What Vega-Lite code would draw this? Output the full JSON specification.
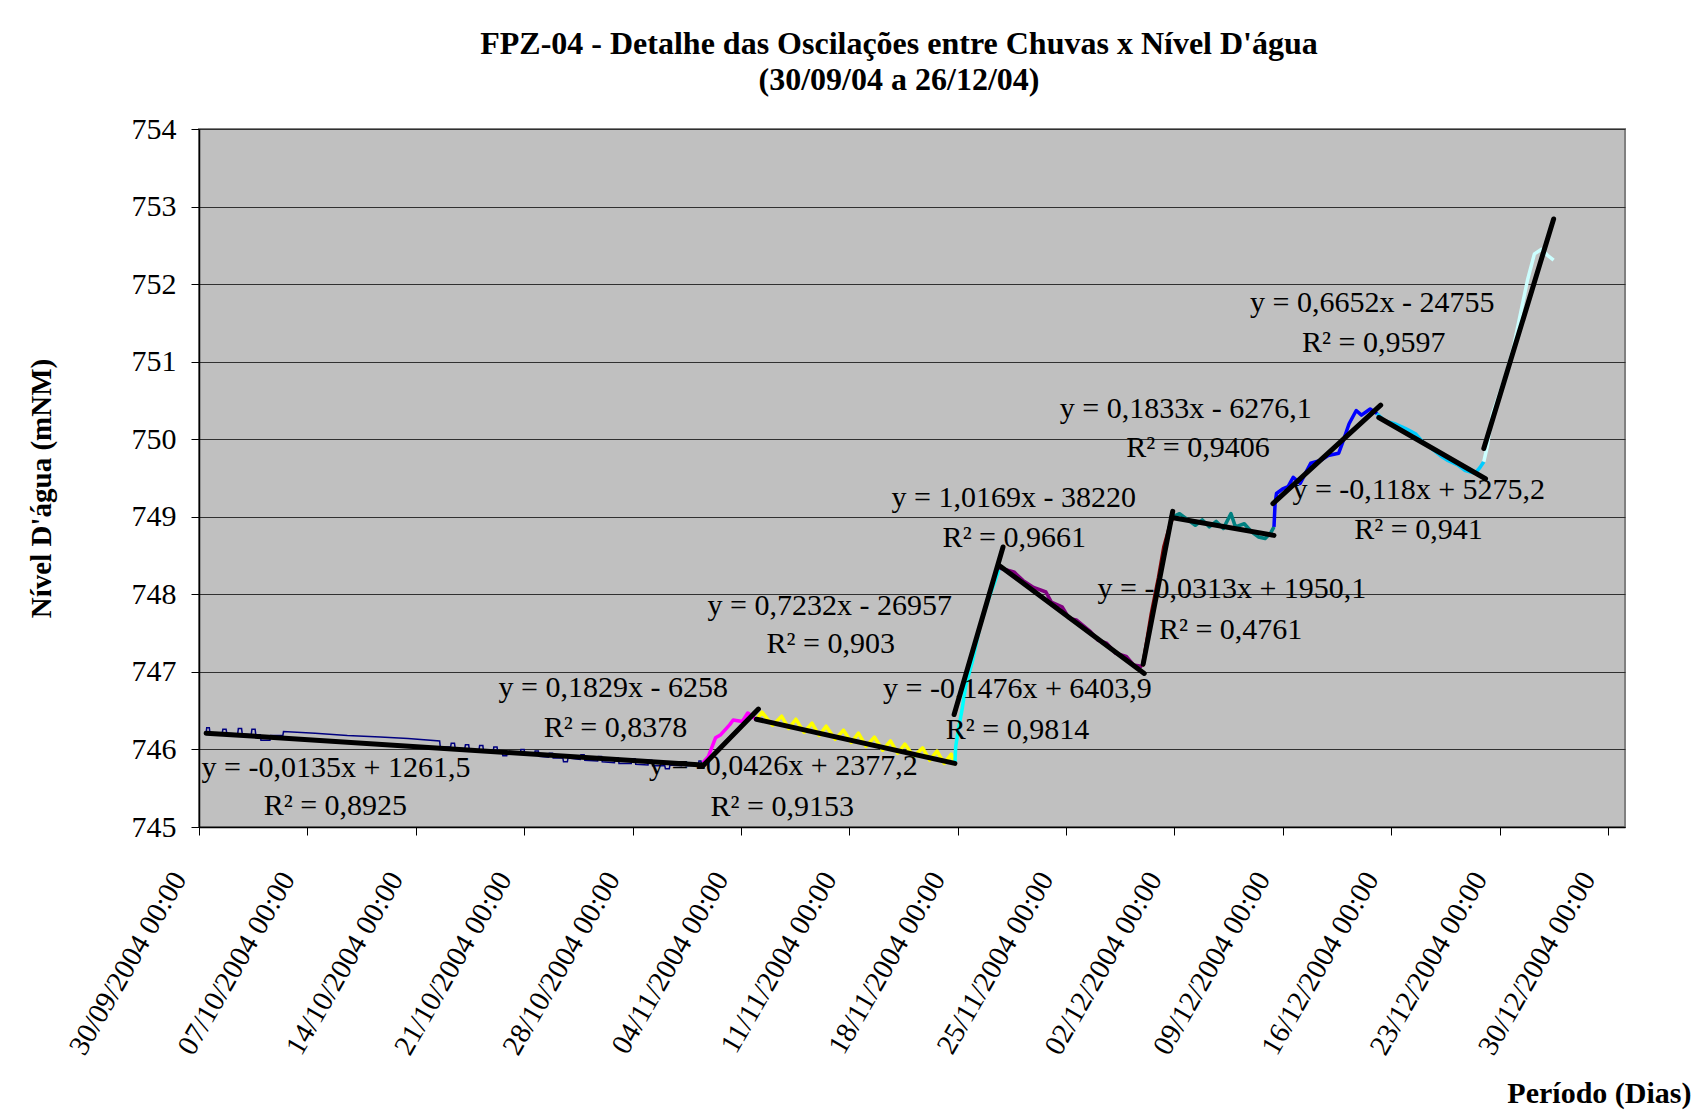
{
  "$schema": "https://vega.github.io/schema/vega-lite/v6.json",
  "autosize": {"type": "none"},
  "padding": {"left": 199, "top": 129, "right": 73, "bottom": 290},
  "width": 1426,
  "height": 698,
  "background": "white",
  "config": {
    "view": {"fill": "#C0C0C0", "stroke": "#808080", "strokeWidth": 2},
    "font": "Liberation Serif"
  },
  "title": {
    "text": ["FPZ-04 - Detalhe das Oscilações entre Chuvas x Nível D'água", "(30/09/04 a 26/12/04)"],
    "font": "Liberation Serif",
    "fontSize": 32,
    "fontWeight": "bold",
    "color": "#000000",
    "anchor": "middle",
    "frame": "group",
    "dx": -13,
    "offset": 17,
    "lineHeight": 36
  },
  "datasets": {
    "navy": [
      {"t": "2004-09-30T11:00", "v": 746.21},
      {"t": "2004-09-30T12:00", "v": 746.28},
      {"t": "2004-09-30T16:00", "v": 746.28},
      {"t": "2004-09-30T17:00", "v": 746.21},
      {"t": "2004-10-01T12:00", "v": 746.21},
      {"t": "2004-10-01T13:00", "v": 746.26},
      {"t": "2004-10-01T18:00", "v": 746.26},
      {"t": "2004-10-01T19:00", "v": 746.21},
      {"t": "2004-10-02T12:00", "v": 746.20},
      {"t": "2004-10-02T13:00", "v": 746.27},
      {"t": "2004-10-02T18:00", "v": 746.27},
      {"t": "2004-10-02T19:00", "v": 746.20},
      {"t": "2004-10-03T09:00", "v": 746.19},
      {"t": "2004-10-03T10:00", "v": 746.26},
      {"t": "2004-10-03T15:00", "v": 746.26},
      {"t": "2004-10-03T16:00", "v": 746.19},
      {"t": "2004-10-03T23:00", "v": 746.19},
      {"t": "2004-10-04T00:00", "v": 746.12},
      {"t": "2004-10-04T14:00", "v": 746.12},
      {"t": "2004-10-04T15:00", "v": 746.18},
      {"t": "2004-10-05T10:00", "v": 746.18},
      {"t": "2004-10-05T11:00", "v": 746.23},
      {"t": "2004-10-07T12:00", "v": 746.21},
      {"t": "2004-10-09T14:00", "v": 746.18},
      {"t": "2004-10-11T17:00", "v": 746.16},
      {"t": "2004-10-13T12:00", "v": 746.14},
      {"t": "2004-10-15T13:00", "v": 746.11},
      {"t": "2004-10-15T14:00", "v": 746.03},
      {"t": "2004-10-16T06:00", "v": 746.03},
      {"t": "2004-10-16T07:00", "v": 746.08},
      {"t": "2004-10-16T12:00", "v": 746.08},
      {"t": "2004-10-16T13:00", "v": 746.02},
      {"t": "2004-10-17T04:00", "v": 746.01},
      {"t": "2004-10-17T05:00", "v": 746.06},
      {"t": "2004-10-17T10:00", "v": 746.06},
      {"t": "2004-10-17T11:00", "v": 746.00},
      {"t": "2004-10-18T02:00", "v": 745.99},
      {"t": "2004-10-18T03:00", "v": 746.05},
      {"t": "2004-10-18T08:00", "v": 746.05},
      {"t": "2004-10-18T09:00", "v": 745.98},
      {"t": "2004-10-19T00:00", "v": 745.97},
      {"t": "2004-10-19T01:00", "v": 746.03},
      {"t": "2004-10-19T06:00", "v": 746.03},
      {"t": "2004-10-19T07:00", "v": 745.96},
      {"t": "2004-10-19T14:00", "v": 745.96},
      {"t": "2004-10-19T15:00", "v": 745.92},
      {"t": "2004-10-19T21:00", "v": 745.92},
      {"t": "2004-10-19T22:00", "v": 745.97},
      {"t": "2004-10-20T18:00", "v": 745.95},
      {"t": "2004-10-20T19:00", "v": 746.00},
      {"t": "2004-10-21T00:00", "v": 746.00},
      {"t": "2004-10-21T01:00", "v": 745.94},
      {"t": "2004-10-21T16:00", "v": 745.93},
      {"t": "2004-10-21T17:00", "v": 745.98},
      {"t": "2004-10-21T22:00", "v": 745.98},
      {"t": "2004-10-21T23:00", "v": 745.91},
      {"t": "2004-10-22T14:00", "v": 745.90},
      {"t": "2004-10-22T15:00", "v": 745.95},
      {"t": "2004-10-22T20:00", "v": 745.95},
      {"t": "2004-10-22T21:00", "v": 745.89},
      {"t": "2004-10-23T12:00", "v": 745.89},
      {"t": "2004-10-23T13:00", "v": 745.84},
      {"t": "2004-10-23T19:00", "v": 745.84},
      {"t": "2004-10-23T20:00", "v": 745.89},
      {"t": "2004-10-24T15:00", "v": 745.87},
      {"t": "2004-10-24T16:00", "v": 745.93},
      {"t": "2004-10-24T21:00", "v": 745.93},
      {"t": "2004-10-24T22:00", "v": 745.86},
      {"t": "2004-10-25T18:00", "v": 745.85},
      {"t": "2004-10-25T19:00", "v": 745.91},
      {"t": "2004-10-26T00:00", "v": 745.91},
      {"t": "2004-10-26T01:00", "v": 745.84},
      {"t": "2004-10-26T20:00", "v": 745.83},
      {"t": "2004-10-26T21:00", "v": 745.89},
      {"t": "2004-10-27T02:00", "v": 745.89},
      {"t": "2004-10-27T03:00", "v": 745.82},
      {"t": "2004-10-27T22:00", "v": 745.82},
      {"t": "2004-10-27T23:00", "v": 745.88},
      {"t": "2004-10-28T04:00", "v": 745.88},
      {"t": "2004-10-28T05:00", "v": 745.81},
      {"t": "2004-10-29T00:00", "v": 745.80},
      {"t": "2004-10-29T01:00", "v": 745.86},
      {"t": "2004-10-29T06:00", "v": 745.86},
      {"t": "2004-10-29T07:00", "v": 745.79},
      {"t": "2004-10-30T02:00", "v": 745.79},
      {"t": "2004-10-30T03:00", "v": 745.75},
      {"t": "2004-10-30T09:00", "v": 745.75},
      {"t": "2004-10-30T10:00", "v": 745.80},
      {"t": "2004-10-31T04:00", "v": 745.79},
      {"t": "2004-10-31T05:00", "v": 745.84},
      {"t": "2004-10-31T10:00", "v": 745.84},
      {"t": "2004-10-31T11:00", "v": 745.79},
      {"t": "2004-11-01T06:00", "v": 745.80},
      {"t": "2004-11-01T07:00", "v": 745.85},
      {"t": "2004-11-01T10:00", "v": 745.85},
      {"t": "2004-11-01T11:00", "v": 745.80},
      {"t": "2004-11-01T13:00", "v": 745.81}
    ],
    "series": [
      {"s": "B", "t": "2004-11-01T13:12", "v": 745.83},
      {"s": "B", "t": "2004-11-01T21:36", "v": 745.91},
      {"s": "B", "t": "2004-11-02T08:38", "v": 746.15},
      {"s": "B", "t": "2004-11-02T16:48", "v": 746.19},
      {"s": "B", "t": "2004-11-03T06:43", "v": 746.32},
      {"s": "B", "t": "2004-11-03T12:00", "v": 746.38},
      {"s": "B", "t": "2004-11-04T02:10", "v": 746.36},
      {"s": "B", "t": "2004-11-04T10:34", "v": 746.47},
      {"s": "B", "t": "2004-11-04T18:43", "v": 746.42},
      {"s": "B", "t": "2004-11-05T00:00", "v": 746.38},
      {"s": "C", "t": "2004-11-05T00:00", "v": 746.38},
      {"s": "C", "t": "2004-11-05T08:38", "v": 746.48},
      {"s": "C", "t": "2004-11-06T01:12", "v": 746.31},
      {"s": "C", "t": "2004-11-06T15:07", "v": 746.43},
      {"s": "C", "t": "2004-11-07T02:10", "v": 746.27},
      {"s": "C", "t": "2004-11-07T13:12", "v": 746.39},
      {"s": "C", "t": "2004-11-08T01:55", "v": 746.22},
      {"s": "C", "t": "2004-11-08T14:10", "v": 746.34},
      {"s": "C", "t": "2004-11-09T01:12", "v": 746.18},
      {"s": "C", "t": "2004-11-09T12:14", "v": 746.30},
      {"s": "C", "t": "2004-11-10T02:10", "v": 746.13},
      {"s": "C", "t": "2004-11-10T14:53", "v": 746.25},
      {"s": "C", "t": "2004-11-11T03:07", "v": 746.09},
      {"s": "C", "t": "2004-11-11T14:10", "v": 746.21},
      {"s": "C", "t": "2004-11-12T02:10", "v": 746.04},
      {"s": "C", "t": "2004-11-12T14:53", "v": 746.16},
      {"s": "C", "t": "2004-11-13T03:50", "v": 745.99},
      {"s": "C", "t": "2004-11-13T15:50", "v": 746.11},
      {"s": "C", "t": "2004-11-14T03:07", "v": 745.95},
      {"s": "C", "t": "2004-11-14T14:10", "v": 746.07},
      {"s": "C", "t": "2004-11-15T03:50", "v": 745.91},
      {"s": "C", "t": "2004-11-15T17:46", "v": 746.02},
      {"s": "C", "t": "2004-11-16T04:48", "v": 745.86},
      {"s": "C", "t": "2004-11-16T15:50", "v": 745.98},
      {"s": "C", "t": "2004-11-17T03:07", "v": 745.82},
      {"s": "C", "t": "2004-11-17T14:10", "v": 745.94},
      {"s": "C", "t": "2004-11-17T19:41", "v": 745.80},
      {"s": "D", "t": "2004-11-17T19:41", "v": 745.82},
      {"s": "D", "t": "2004-11-17T21:00", "v": 746.04},
      {"s": "D", "t": "2004-11-18T01:12", "v": 746.26},
      {"s": "D", "t": "2004-11-18T06:43", "v": 746.51},
      {"s": "D", "t": "2004-11-18T12:14", "v": 746.81},
      {"s": "D", "t": "2004-11-18T23:17", "v": 747.15},
      {"s": "D", "t": "2004-11-19T10:19", "v": 747.58},
      {"s": "D", "t": "2004-11-19T21:22", "v": 747.88},
      {"s": "D", "t": "2004-11-20T08:38", "v": 748.14},
      {"s": "D", "t": "2004-11-20T16:48", "v": 748.34},
      {"s": "E", "t": "2004-11-20T16:48", "v": 748.34},
      {"s": "E", "t": "2004-11-21T15:07", "v": 748.29},
      {"s": "E", "t": "2004-11-22T05:02", "v": 748.18},
      {"s": "E", "t": "2004-11-22T21:36", "v": 748.09},
      {"s": "E", "t": "2004-11-23T16:48", "v": 748.03},
      {"s": "E", "t": "2004-11-24T01:12", "v": 747.90},
      {"s": "E", "t": "2004-11-24T17:46", "v": 747.84},
      {"s": "E", "t": "2004-11-25T04:48", "v": 747.69},
      {"s": "E", "t": "2004-11-25T15:50", "v": 747.67},
      {"s": "E", "t": "2004-11-26T13:55", "v": 747.52},
      {"s": "E", "t": "2004-11-27T01:12", "v": 747.41},
      {"s": "E", "t": "2004-11-27T14:53", "v": 747.37},
      {"s": "E", "t": "2004-11-28T04:48", "v": 747.24},
      {"s": "E", "t": "2004-11-28T21:22", "v": 747.20},
      {"s": "E", "t": "2004-11-29T08:38", "v": 747.09},
      {"s": "E", "t": "2004-11-29T22:19", "v": 747.07},
      {"s": "F", "t": "2004-11-29T22:19", "v": 747.07},
      {"s": "F", "t": "2004-11-30T01:12", "v": 747.20},
      {"s": "F", "t": "2004-11-30T12:00", "v": 747.75},
      {"s": "F", "t": "2004-11-30T23:17", "v": 748.22},
      {"s": "F", "t": "2004-12-01T07:26", "v": 748.61},
      {"s": "F", "t": "2004-12-01T15:50", "v": 748.86},
      {"s": "F", "t": "2004-12-01T21:22", "v": 748.99},
      {"s": "G", "t": "2004-12-01T21:07", "v": 749.00},
      {"s": "G", "t": "2004-12-02T07:55", "v": 749.04},
      {"s": "G", "t": "2004-12-02T16:19", "v": 748.99},
      {"s": "G", "t": "2004-12-03T08:24", "v": 748.89},
      {"s": "G", "t": "2004-12-03T19:12", "v": 748.96},
      {"s": "G", "t": "2004-12-04T06:00", "v": 748.87},
      {"s": "G", "t": "2004-12-04T16:48", "v": 748.94},
      {"s": "G", "t": "2004-12-05T03:50", "v": 748.85},
      {"s": "G", "t": "2004-12-05T15:36", "v": 749.04},
      {"s": "G", "t": "2004-12-05T22:34", "v": 748.87},
      {"s": "G", "t": "2004-12-06T12:14", "v": 748.91},
      {"s": "G", "t": "2004-12-06T23:02", "v": 748.81},
      {"s": "G", "t": "2004-12-07T10:05", "v": 748.74},
      {"s": "G", "t": "2004-12-07T20:38", "v": 748.72},
      {"s": "G", "t": "2004-12-08T05:02", "v": 748.79},
      {"s": "G", "t": "2004-12-08T10:19", "v": 748.87},
      {"s": "H", "t": "2004-12-08T10:19", "v": 748.87},
      {"s": "H", "t": "2004-12-08T12:00", "v": 749.17},
      {"s": "H", "t": "2004-12-08T14:10", "v": 749.30},
      {"s": "H", "t": "2004-12-08T23:46", "v": 749.36},
      {"s": "H", "t": "2004-12-09T08:10", "v": 749.39},
      {"s": "H", "t": "2004-12-09T16:05", "v": 749.51},
      {"s": "H", "t": "2004-12-10T02:53", "v": 749.43},
      {"s": "H", "t": "2004-12-10T11:02", "v": 749.56},
      {"s": "H", "t": "2004-12-10T19:12", "v": 749.69},
      {"s": "H", "t": "2004-12-11T11:31", "v": 749.73},
      {"s": "H", "t": "2004-12-11T22:19", "v": 749.79},
      {"s": "H", "t": "2004-12-12T14:38", "v": 749.82},
      {"s": "H", "t": "2004-12-12T19:55", "v": 749.94},
      {"s": "H", "t": "2004-12-13T06:43", "v": 750.20},
      {"s": "H", "t": "2004-12-13T17:46", "v": 750.37},
      {"s": "H", "t": "2004-12-14T01:55", "v": 750.31},
      {"s": "H", "t": "2004-12-14T15:22", "v": 750.39},
      {"s": "H", "t": "2004-12-15T02:10", "v": 750.33},
      {"s": "I", "t": "2004-12-15T02:10", "v": 750.33},
      {"s": "I", "t": "2004-12-15T12:58", "v": 750.24},
      {"s": "I", "t": "2004-12-16T05:17", "v": 750.20},
      {"s": "I", "t": "2004-12-16T21:36", "v": 750.14},
      {"s": "I", "t": "2004-12-17T13:41", "v": 750.07},
      {"s": "I", "t": "2004-12-18T00:29", "v": 749.97},
      {"s": "I", "t": "2004-12-18T11:31", "v": 749.90},
      {"s": "I", "t": "2004-12-19T03:50", "v": 749.79},
      {"s": "I", "t": "2004-12-19T14:38", "v": 749.73},
      {"s": "I", "t": "2004-12-20T06:58", "v": 749.67},
      {"s": "I", "t": "2004-12-20T17:46", "v": 749.60},
      {"s": "I", "t": "2004-12-21T10:05", "v": 749.56},
      {"s": "I", "t": "2004-12-21T18:00", "v": 749.64},
      {"s": "I", "t": "2004-12-21T23:31", "v": 749.71},
      {"s": "J", "t": "2004-12-21T23:31", "v": 749.71},
      {"s": "J", "t": "2004-12-22T04:48", "v": 749.90},
      {"s": "J", "t": "2004-12-22T12:58", "v": 750.33},
      {"s": "J", "t": "2004-12-22T23:46", "v": 750.59},
      {"s": "J", "t": "2004-12-23T10:34", "v": 750.85},
      {"s": "J", "t": "2004-12-23T21:36", "v": 751.19},
      {"s": "J", "t": "2004-12-24T08:24", "v": 751.62},
      {"s": "J", "t": "2004-12-24T19:12", "v": 752.05},
      {"s": "J", "t": "2004-12-25T06:00", "v": 752.39},
      {"s": "J", "t": "2004-12-25T17:02", "v": 752.45},
      {"s": "J", "t": "2004-12-26T03:50", "v": 752.36},
      {"s": "J", "t": "2004-12-26T11:46", "v": 752.31}
    ],
    "trend": [
      {"t1": "2004-09-30T11:02", "v1": 746.21, "t2": "2004-11-01T11:46", "v2": 745.80},
      {"t1": "2004-11-01T13:12", "v1": 745.79, "t2": "2004-11-05T03:07", "v2": 746.52},
      {"t1": "2004-11-05T00:00", "v1": 746.39, "t2": "2004-11-17T19:41", "v2": 745.82},
      {"t1": "2004-11-17T18:29", "v1": 746.45, "t2": "2004-11-20T22:19", "v2": 748.61},
      {"t1": "2004-11-20T16:48", "v1": 748.37, "t2": "2004-11-30T01:12", "v2": 746.98},
      {"t1": "2004-11-29T23:31", "v1": 747.10, "t2": "2004-12-01T21:22", "v2": 749.07},
      {"t1": "2004-12-01T19:41", "v1": 748.99, "t2": "2004-12-08T10:19", "v2": 748.76},
      {"t1": "2004-12-08T08:38", "v1": 749.17, "t2": "2004-12-15T07:41", "v2": 750.44},
      {"t1": "2004-12-15T04:48", "v1": 750.28, "t2": "2004-12-22T02:10", "v2": 749.49},
      {"t1": "2004-12-21T23:31", "v1": 749.88, "t2": "2004-12-26T11:46", "v2": 752.84}
    ],
    "labels": [
      {"t": "2004-10-08T20:24", "v": 745.65, "txt": "y = -0,0135x + 1261,5"},
      {"t": "2004-10-08T19:26", "v": 745.15, "txt": "R² = 0,8925"},
      {"t": "2004-10-26T18:14", "v": 746.68, "txt": "y = 0,1829x - 6258"},
      {"t": "2004-10-26T21:36", "v": 746.16, "txt": "R² = 0,8378"},
      {"t": "2004-11-06T17:46", "v": 745.67, "txt": "y = -0,0426x + 2377,2"},
      {"t": "2004-11-06T16:05", "v": 745.14, "txt": "R² = 0,9153"},
      {"t": "2004-11-09T17:46", "v": 747.73, "txt": "y = 0,7232x - 26957"},
      {"t": "2004-11-09T19:12", "v": 747.24, "txt": "R² = 0,903"},
      {"t": "2004-11-21T14:53", "v": 749.13, "txt": "y = 1,0169x - 38220"},
      {"t": "2004-11-21T15:50", "v": 748.61, "txt": "R² = 0,9661"},
      {"t": "2004-11-21T20:38", "v": 746.66, "txt": "y = -0,1476x + 6403,9"},
      {"t": "2004-11-21T20:38", "v": 746.14, "txt": "R² = 0,9814"},
      {"t": "2004-12-05T17:02", "v": 747.95, "txt": "y = -0,0313x + 1950,1"},
      {"t": "2004-12-05T15:07", "v": 747.42, "txt": "R² = 0,4761"},
      {"t": "2004-12-02T17:31", "v": 750.28, "txt": "y = 0,1833x - 6276,1"},
      {"t": "2004-12-03T12:29", "v": 749.77, "txt": "R² = 0,9406"},
      {"t": "2004-12-17T18:43", "v": 749.23, "txt": "y = -0,118x + 5275,2"},
      {"t": "2004-12-17T18:14", "v": 748.71, "txt": "R² = 0,941"},
      {"t": "2004-12-14T18:43", "v": 751.64, "txt": "y = 0,6652x - 24755"},
      {"t": "2004-12-14T20:53", "v": 751.13, "txt": "R² = 0,9597"}
    ]
  },
  "layer": [
    {
      "data": {"name": "navy"},
      "mark": {"type": "line", "color": "#000080", "strokeWidth": 1.5},
      "encoding": {
        "x": {
          "field": "t", "type": "temporal",
          "scale": {"domain": [{"year": 2004, "month": 9, "date": 30}, {"year": 2004, "month": 12, "date": 31, "hours": 2, "minutes": 24}], "nice": false},
          "axis": {
            "title": "Período (Dias)",
            "titleFont": "Liberation Serif", "titleFontSize": 30, "titleFontWeight": "bold", "titleColor": "#000000",
            "titleAnchor": "end", "titleAlign": "right", "titleBaseline": "alphabetic", "titleX": 1492, "titleY": 275,
            "values": [
              {"year": 2004, "month": 9, "date": 30},
              {"year": 2004, "month": 10, "date": 7},
              {"year": 2004, "month": 10, "date": 14},
              {"year": 2004, "month": 10, "date": 21},
              {"year": 2004, "month": 10, "date": 28},
              {"year": 2004, "month": 11, "date": 4},
              {"year": 2004, "month": 11, "date": 11},
              {"year": 2004, "month": 11, "date": 18},
              {"year": 2004, "month": 11, "date": 25},
              {"year": 2004, "month": 12, "date": 2},
              {"year": 2004, "month": 12, "date": 9},
              {"year": 2004, "month": 12, "date": 16},
              {"year": 2004, "month": 12, "date": 23},
              {"year": 2004, "month": 12, "date": 30}
            ],
            "format": "%d/%m/%Y %H:%M",
            "labelAngle": -60, "labelAlign": "right", "labelBaseline": "middle",
            "labelFont": "Liberation Serif", "labelFontSize": 29, "labelColor": "#000000", "labelLimit": 0,
            "labelPadding": 39, "labelOffset": -20, "labelOverlap": false, "labelBound": false, "labelFlush": false,
            "grid": false, "tickSize": 8, "tickColor": "#000000", "tickWidth": 1,
            "domainColor": "#000000", "domainWidth": 1.5
          }
        },
        "y": {
          "field": "v", "type": "quantitative",
          "scale": {"domain": [745, 754], "nice": false, "zero": false},
          "axis": {
            "title": "Nível D'água (mNM)",
            "titleFont": "Liberation Serif", "titleFontSize": 29, "titleFontWeight": "bold", "titleColor": "#000000",
            "titleAngle": -90, "titleAlign": "center", "titleBaseline": "alphabetic", "titleX": -149, "titleY": 359,
            "values": [745, 746, 747, 748, 749, 750, 751, 752, 753, 754],
            "format": "d",
            "labelFont": "Liberation Serif", "labelFontSize": 30, "labelColor": "#000000", "labelPadding": 15,
            "grid": true, "gridColor": "#303030", "gridWidth": 1,
            "tickSize": 8, "tickColor": "#000000", "tickWidth": 1,
            "domainColor": "#000000", "domainWidth": 1.5
          }
        }
      }
    },
    {
      "data": {"name": "series"},
      "mark": {"type": "line", "strokeWidth": 3.5, "strokeJoin": "round"},
      "encoding": {
        "x": {"field": "t", "type": "temporal"},
        "y": {"field": "v", "type": "quantitative"},
        "color": {
          "field": "s", "type": "nominal", "legend": null,
          "scale": {"domain": ["B", "C", "D", "E", "F", "G", "H", "I", "J"], "range": ["#FF00FF", "#FFFF00", "#00FFFF", "#800080", "#800000", "#008080", "#0000FF", "#00CCFF", "#CCFFFF"]}
        }
      }
    },
    {
      "data": {"name": "trend"},
      "mark": {"type": "rule", "color": "#000000", "strokeWidth": 5, "strokeCap": "round"},
      "encoding": {
        "x": {"field": "t1", "type": "temporal"},
        "x2": {"field": "t2"},
        "y": {"field": "v1", "type": "quantitative"},
        "y2": {"field": "v2"}
      }
    },
    {
      "data": {"name": "labels"},
      "mark": {"type": "text", "font": "Liberation Serif", "fontSize": 30, "color": "#000000", "align": "center", "baseline": "alphabetic"},
      "encoding": {
        "x": {"field": "t", "type": "temporal"},
        "y": {"field": "v", "type": "quantitative"},
        "text": {"field": "txt"}
      }
    }
  ]
}
